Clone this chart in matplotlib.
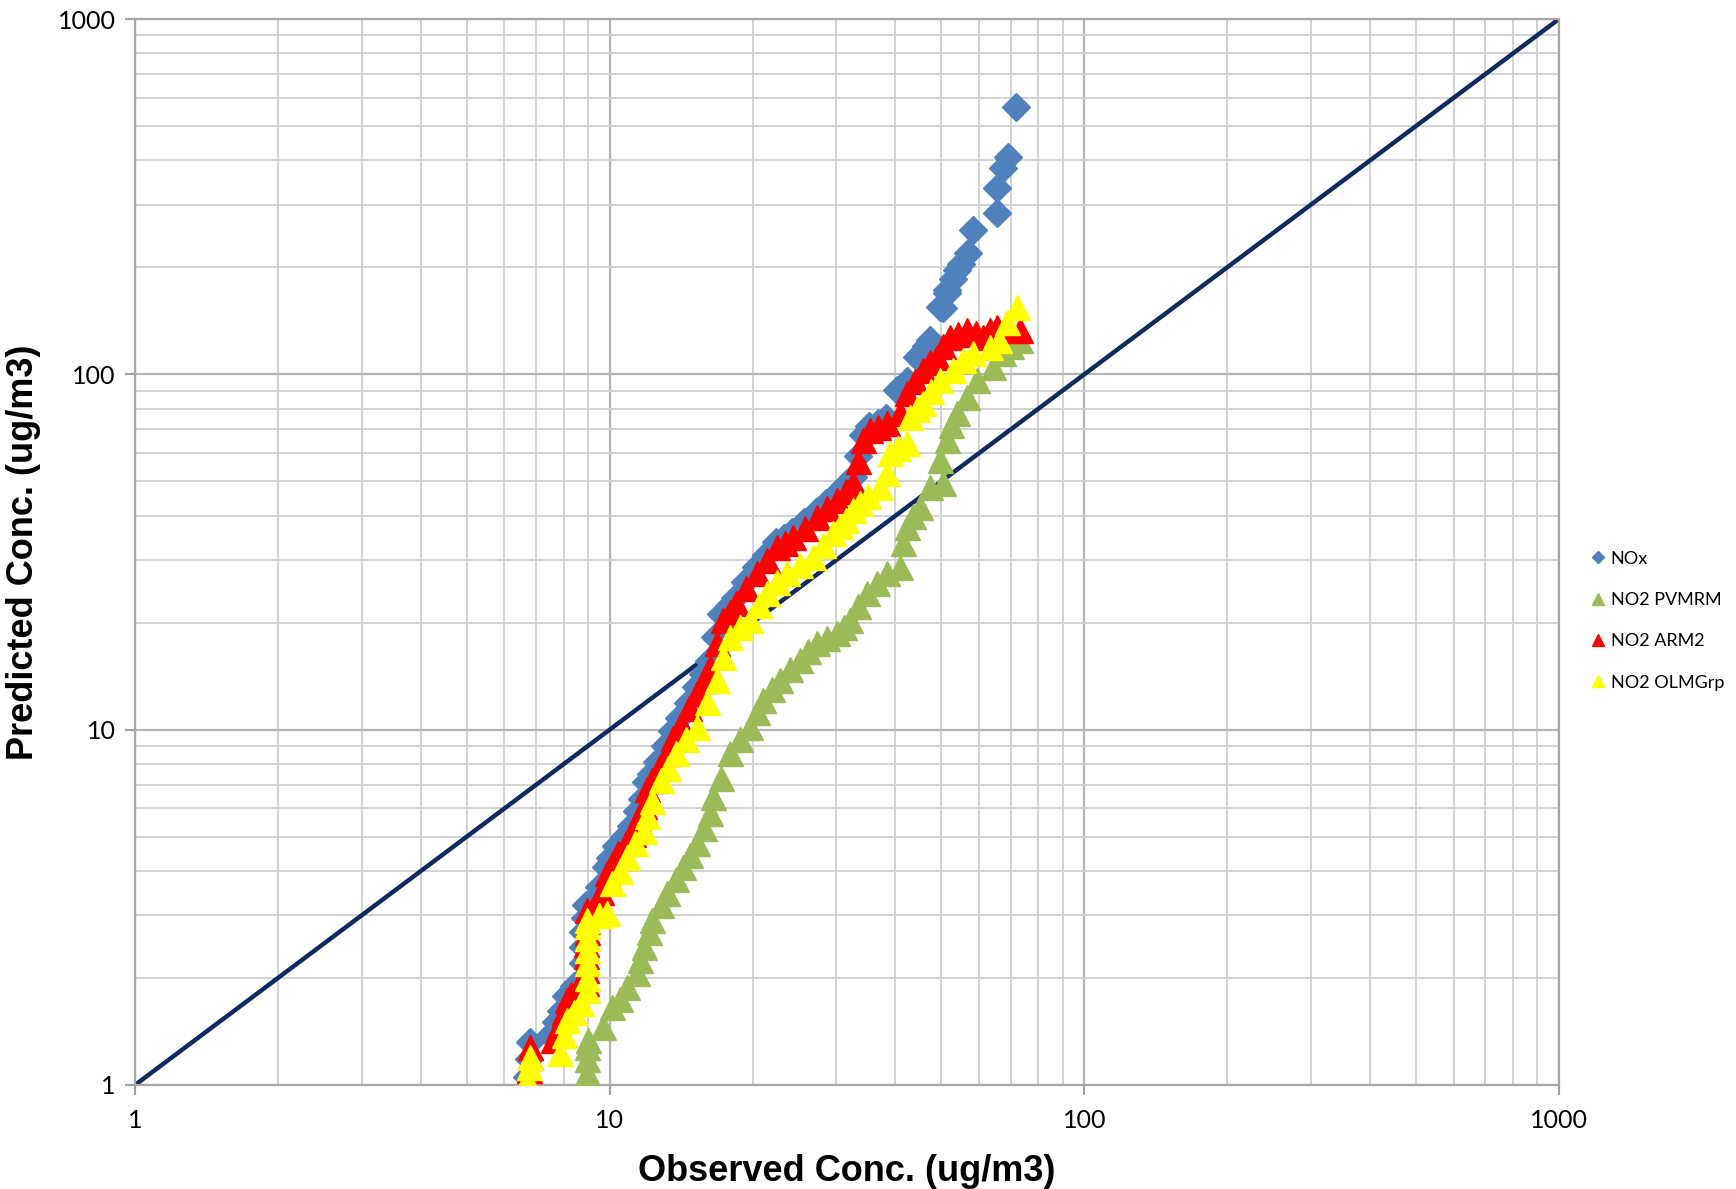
import matplotlib
matplotlib.use("Agg")
import matplotlib.pyplot as plt
from matplotlib.ticker import LogLocator, FixedLocator, NullFormatter

# Q-Q pairs (observed, predicted)
nox_obs = [6.7, 6.75, 6.8, 7.5, 7.7, 7.9, 8.1, 8.4, 8.8, 8.8, 8.8, 8.8, 8.85, 8.9,
           9.3, 9.5, 9.8, 10.0, 10.3, 10.7, 11.1, 11.4, 11.7, 11.9, 12.2, 12.6, 13.1,
           13.5, 14.0, 14.6, 15.2, 15.7, 16.2, 16.7, 17.2, 17.8, 18.4, 19.3, 20.3, 21.3,
           22.4, 23.3, 24.2, 25.7, 27.2, 28.6, 30.0, 31.3, 32.5, 33.3, 34.1, 35.2, 36.7,
           38.3, 40.3, 42.3, 44.4, 46.5, 47.3, 49.6, 50.3, 51.3, 51.4, 53.0, 53.9, 55.0,
           56.8, 58.3, 65.6, 65.6, 67.5, 68.9, 71.9]
nox_pred = [1.05, 1.18, 1.32, 1.38, 1.5, 1.62, 1.78, 1.9, 2.0, 2.2, 2.45, 2.7, 2.95, 3.2,
            3.35, 3.6, 4.1, 4.35, 4.7, 5.0, 5.35, 5.9, 6.4, 7.1, 7.5, 8.1, 9.0,
            9.9, 10.8, 11.9, 13.2, 14.3, 15.6, 18.2, 21.2, 22.3, 23.5, 26.0, 28.6, 31.0,
            33.8, 34.6, 36.0, 38.3, 41.0, 43.5, 46.0, 48.8, 51.5, 59.0, 67.5, 71.5, 73.0,
            75.5, 90.4, 96.0, 112.0, 120.0, 125.0, 155.0, 154.0, 173.0, 169.0, 185.0, 196.0, 205.0,
            219.0, 254.0, 285.0, 334.0, 382.0, 408.0, 565.0]

pvmrm_obs = [8.96, 8.96, 8.96, 8.96, 9.0, 9.68, 10.1, 10.5, 10.9, 11.4, 11.6, 11.8, 12.1,
             12.3, 12.8, 13.2, 13.8, 14.3, 14.8, 15.3, 15.8, 16.3, 16.5, 17.2, 17.9, 18.8,
             19.8, 20.4, 21.0, 22.0, 22.8, 24.0, 25.2, 26.2, 27.3, 28.7, 30.1, 31.1, 32.1,
             33.4, 34.8, 36.5, 38.4, 40.9, 41.5, 42.3, 43.6, 45.1, 47.3, 50.4, 49.6, 51.3,
             52.5, 53.9, 56.6, 59.4, 64.2, 67.4, 70.0, 73.1]
pvmrm_pred = [1.0, 1.08, 1.18, 1.28, 1.34, 1.46, 1.66, 1.75, 1.89, 2.07, 2.25, 2.44, 2.7,
              2.91, 3.2, 3.47, 3.8, 4.11, 4.45, 4.8, 5.3, 5.83, 6.47, 7.3, 8.6, 9.4,
              10.2, 11.2, 12.1, 13.0, 13.8, 14.8, 15.7, 16.6, 17.5, 18.1, 18.7, 19.5, 20.4,
              22.3, 24.2, 25.9, 27.6, 28.7, 33.5, 37.2, 40.0, 42.4, 48.2, 49.5, 57.4, 65.4,
              72.0, 77.9, 86.3, 96.4, 105.0, 115.0, 120.0, 125.0]

arm2_obs = [6.7, 6.75, 6.8, 6.8, 7.6, 7.8, 8.0, 8.13, 8.3, 8.53, 8.9, 8.9, 8.9, 8.9, 8.96,
            8.96, 8.96, 9.4, 9.6, 9.87, 10.1, 10.4, 10.8, 11.2, 11.5, 11.8, 12.0, 12.3,
            12.7, 13.2, 13.6, 14.1, 14.7, 15.3, 15.8, 16.3, 16.8, 17.3, 17.9, 18.5, 19.4,
            20.4, 21.4, 22.5, 23.4, 24.3, 25.8, 27.3, 28.7, 30.1, 31.4, 32.6, 33.4, 34.2,
            35.3, 36.8, 38.4, 40.9, 42.3, 44.0, 45.7, 47.3, 48.9, 50.5, 52.1, 54.3, 56.6,
            59.0, 61.1, 63.3, 65.5, 69.0, 73.1]
arm2_pred = [1.0, 1.1, 1.2, 1.28, 1.34, 1.45, 1.6, 1.73, 1.8, 1.85, 1.94, 2.1, 2.3, 2.5, 2.7,
             2.9, 3.1, 3.25, 3.5, 3.95, 4.2, 4.5, 4.8, 5.1, 5.6, 6.1, 6.8, 7.2,
             7.8, 8.6, 9.5, 10.4, 11.5, 12.7, 13.8, 15.0, 17.5, 20.4, 21.5, 22.7, 25.0,
             27.6, 30.0, 32.7, 33.5, 34.9, 37.0, 39.7, 42.0, 44.3, 47.0, 49.5, 57.0, 65.4,
             69.7, 71.0, 73.0, 77.9, 88.7, 96.0, 103.0, 108.0, 112.0, 120.0, 127.0, 130.0, 133.0,
             131.0, 127.0, 133.0, 136.0, 134.0, 133.0]

olm_obs = [6.7, 6.7, 6.75, 6.8, 7.86, 8.0, 8.13, 8.4, 8.7, 8.96, 8.96, 8.96, 8.96, 8.96,
           8.96, 8.96, 9.5, 9.87, 10.1, 10.5, 10.9, 11.3, 11.8, 12.0, 12.3, 12.8, 13.3,
           13.8, 14.5, 15.3, 16.0, 16.8, 17.3, 17.9, 18.8, 19.8, 20.6, 21.4, 22.5, 23.6,
           25.2, 26.8, 28.1, 29.5, 30.5, 31.5, 32.6, 33.7, 35.0, 37.1, 38.4, 38.9, 40.5,
           42.3, 42.9, 44.5, 45.7, 47.5, 49.6, 52.9, 55.5, 58.2, 63.2, 66.0, 68.7, 72.1]
olm_pred = [0.97, 1.03, 1.12, 1.2, 1.23, 1.38, 1.52, 1.6, 1.7, 1.85, 2.0, 2.2, 2.4, 2.6,
            2.8, 2.91, 3.0, 3.05, 3.7, 4.0, 4.38, 4.8, 5.2, 5.7, 6.3, 7.2, 7.8,
            8.6, 9.4, 10.2, 12.0, 13.8, 16.0, 18.2, 19.5, 20.4, 22.5, 24.2, 26.0, 27.6,
            29.0, 30.6, 33.0, 35.8, 37.5, 39.0, 41.5, 43.5, 45.5, 48.2, 52.8, 60.1, 62.0,
            64.1, 75.9, 80.0, 83.1, 90.0, 96.4, 103.0, 110.0, 115.0, 119.0, 125.0, 140.0, 155.0]

line_x = [1, 1000]
line_y = [1, 1000]

fig = plt.figure(figsize=(17.36, 11.89), dpi=100)
ax = fig.add_axes([0.0778, 0.0875, 0.8202, 0.8965])

ax.set_xscale("log")
ax.set_yscale("log")
ax.set_xlim(1, 1000)
ax.set_ylim(1, 1000)

ax.grid(True, which="major", color="#b4b4b4", linewidth=1.6, zorder=0)
ax.grid(True, which="minor", color="#cfcfcf", linewidth=1.3, zorder=0)
ax.set_axisbelow(True)

ax.plot(line_x, line_y, color="#0f2a5f", linewidth=3.2, zorder=2)

ax.plot(nox_obs, nox_pred, linestyle="none", marker="D", markersize=14,
        color="#4f81bd", label="NOx", zorder=3)
ax.plot(pvmrm_obs, pvmrm_pred, linestyle="none", marker="^", markersize=18,
        color="#9bbb59", label="NO2 PVMRM", zorder=4)
ax.plot(arm2_obs, arm2_pred, linestyle="none", marker="^", markersize=18,
        color="#ff0000", label="NO2 ARM2", zorder=5)
ax.plot(olm_obs, olm_pred, linestyle="none", marker="^", markersize=18,
        color="#ffff00", label="NO2 OLMGrp", zorder=6)

ax.xaxis.set_major_locator(FixedLocator([1, 10, 100, 1000]))
ax.yaxis.set_major_locator(FixedLocator([1, 10, 100, 1000]))
ax.set_xticklabels(["1", "10", "100", "1000"])
ax.set_yticklabels(["1", "10", "100", "1000"])
ax.xaxis.set_minor_locator(LogLocator(base=10, subs=range(2, 10)))
ax.yaxis.set_minor_locator(LogLocator(base=10, subs=range(2, 10)))
ax.xaxis.set_minor_formatter(NullFormatter())
ax.yaxis.set_minor_formatter(NullFormatter())
ax.tick_params(which="major", length=7, width=1.5, color="#a0a0a0", labelsize=18)
ax.tick_params(axis="x", which="major", pad=10)
ax.tick_params(axis="y", which="major", pad=7)
ax.tick_params(which="minor", length=0)
for lab in ax.get_xticklabels() + ax.get_yticklabels():
    lab.set_family("Lato")

for s in ax.spines.values():
    s.set_color("#a6a6a6")
    s.set_linewidth(1.6)

ax.set_xlabel("Observed Conc. (ug/m3)", fontsize=26, fontweight="bold",
              family="Liberation Sans", labelpad=16)
ax.set_ylabel("Predicted Conc. (ug/m3)", fontsize=26, fontweight="bold",
              family="Liberation Sans", labelpad=12)

leg = fig.legend(loc="center left", bbox_to_anchor=(0.908, 0.478),
                 frameon=False, markerscale=0.45, handlelength=0.6,
                 handletextpad=0.4, labelspacing=1.4,
                 prop={"family": "Lato", "size": 13})

fig.savefig("out.png", dpi=100)
